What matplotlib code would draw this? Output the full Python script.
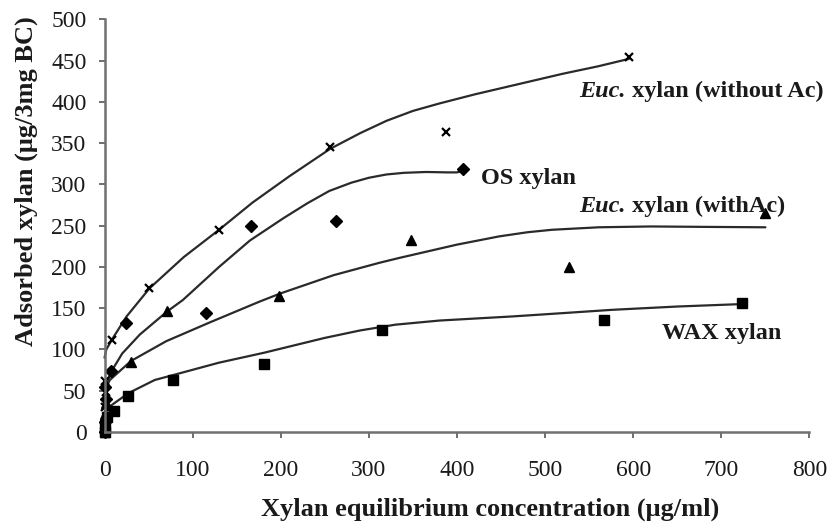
import matplotlib
matplotlib.use('Agg')
import matplotlib.pyplot as plt

plt.rcParams['font.family'] = ['Liberation Serif', 'DejaVu Serif']

# measured adsorption points (x: equilibrium conc. ug/ml, y: adsorbed ug/3mg BC)
euc_noac_x = [0.5, 2, 1, 9, 51, 130, 256, 387, 595]
euc_noac_y = [30, 48, 62, 111, 174, 245, 345, 364, 454]

os_x = [0, 0.5, 2, 1, 7, 24, 115, 166, 263, 407]
os_y = [0, 12, 40, 55, 74, 132, 144, 249, 256, 319]

euc_ac_x = [0, 0.5, 1, 2, 30, 71, 198, 348, 527, 750]
euc_ac_y = [0, 8, 22, 35, 85, 146, 165, 232, 200, 265]

wax_x = [0, 1, 3, 11, 27, 78, 181, 315, 567, 724]
wax_y = [0, 8, 18, 25, 44, 63, 82, 124, 136, 156]

# trend curves
euc_noac_cx = [0, 2, 9, 25, 51, 90, 130, 168, 210, 256, 290, 320, 350, 380, 420, 460, 520, 560, 595]
euc_noac_cy = [90, 100, 113, 140, 174, 212, 245, 278, 310, 343, 362, 377, 389, 398, 409, 419, 434, 443, 452]

os_cx = [0, 3, 7, 20, 40, 71, 89, 130, 165, 203, 230, 255, 280, 300, 320, 340, 365, 390, 400, 405, 407]
os_cy = [52, 60, 72, 95, 118, 146, 160, 200, 232, 259, 277, 292, 302, 308, 312, 314, 315, 314.5, 314.5, 316, 319]

euc_ac_cx = [0, 6, 30, 70, 120, 176, 200, 260, 312, 335, 400, 448, 480, 508, 561, 620, 680, 750]
euc_ac_cy = [50, 63, 86, 110, 133, 158, 168, 190, 205, 211, 227, 237, 242, 245, 248, 249, 248.5, 248]

wax_cx = [0, 6, 27, 57, 78, 130, 181, 250, 290, 330, 380, 463, 520, 576, 650, 724]
wax_cy = [22, 31, 47, 63, 69, 84, 96, 114, 123, 130, 135, 140, 144, 148, 152, 155]

fig = plt.figure(figsize=(8.37, 5.27), dpi=100)
ax = fig.add_axes([0.1249, 0.1803, 0.8422, 0.7831])

lc = '#2a2a2a'
lw = 1.6
for cx, cy in [(euc_noac_cx, euc_noac_cy), (os_cx, os_cy),
               (euc_ac_cx, euc_ac_cy), (wax_cx, wax_cy)]:
    ax.plot(cx, cy, color=lc, lw=lw, solid_capstyle='round',
            solid_joinstyle='round', clip_on=False)

ax.plot(euc_noac_x, euc_noac_y, ls='none', marker='x', ms=6, mew=1.6, color='black', clip_on=False)
ax.plot(os_x, os_y, ls='none', marker='D', ms=6, color='black', clip_on=False)
ax.plot(euc_ac_x, euc_ac_y, ls='none', marker='^', ms=7, color='black', clip_on=False)
ax.plot(wax_x, wax_y, ls='none', marker='s', ms=7, color='black', clip_on=False)

ax.set_xlim(0, 800)
ax.set_ylim(0, 500)
ax.set_xticks(range(0, 801, 100))
ax.set_yticks(range(0, 501, 50))

for s in ['top', 'right']:
    ax.spines[s].set_visible(False)
for s in ['left', 'bottom']:
    ax.spines[s].set_color('#707070')
    ax.spines[s].set_linewidth(1.8)

ax.tick_params(axis='both', colors='#555555', width=1.2, length=4,
               labelcolor='#1a1a1a', labelsize=17)
ax.tick_params(axis='x', pad=16)
ax.tick_params(axis='y', pad=9)

ax.set_xlabel('Xylan equilibrium concentration (\u03bcg/ml)', fontsize=19,
              fontweight='bold', color='#1a1a1a')
ax.set_ylabel('Adsorbed xylan (\u03bcg/3mg BC)', fontsize=19,
              fontweight='bold', color='#1a1a1a')
ax.xaxis.set_label_coords(0.547, -0.16)
ax.yaxis.set_label_coords(-0.094, 0.607)


# curve labels: italic genus abbreviation followed by bold text
def label(x, y, head, rest):
    kw = dict(fontsize=17.5, fontweight='bold', color='#1a1a1a')
    if head:
        t = ax.text(x, y, head, style='italic', va='center', ha='left', **kw)
        ax.annotate(rest, xy=(1, 0), xycoords=t, va='bottom', ha='left', **kw)
    else:
        ax.text(x, y, rest, va='center', ha='left', **kw)


label(539, 412, 'Euc.', ' xylan (without Ac)')
label(427, 307, None, 'OS xylan')
label(539, 273, 'Euc.', ' xylan (withAc)')
label(633, 119.5, None, 'WAX xylan')

fig.savefig('out.png', dpi=100)
